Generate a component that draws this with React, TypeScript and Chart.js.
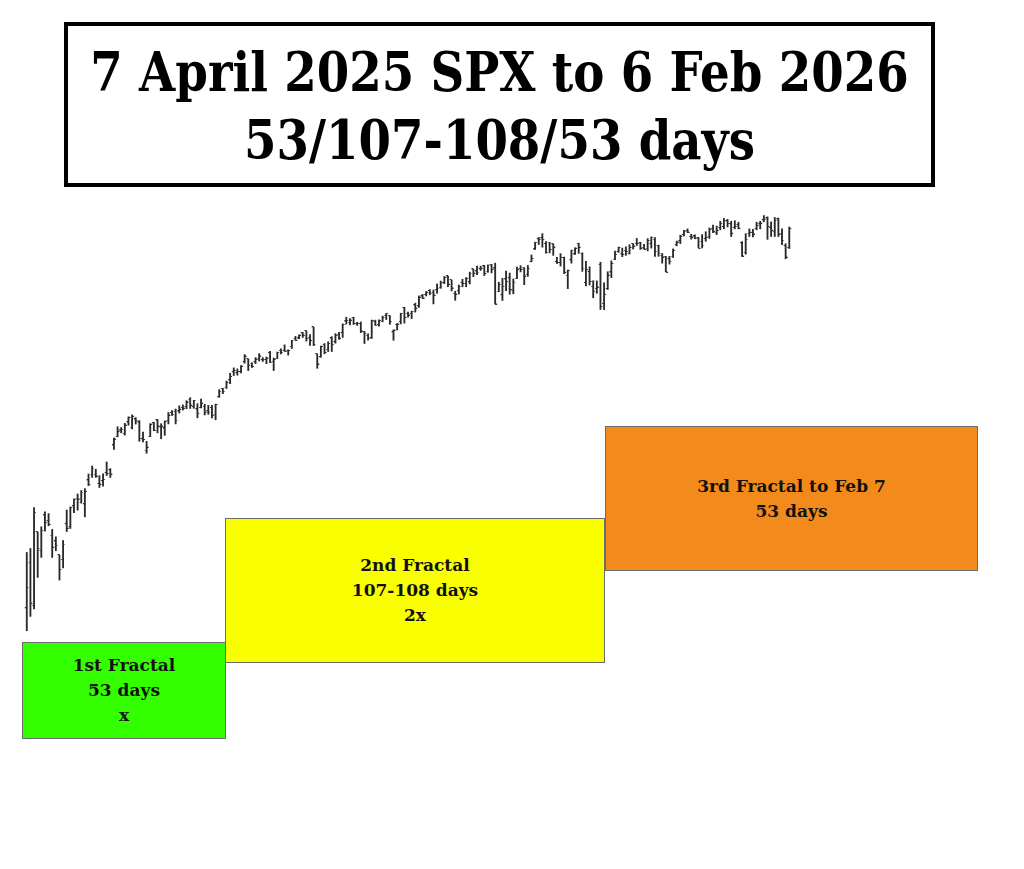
import React, { useEffect, useRef } from "react";
import { Chart, registerables } from "chart.js";

Chart.register(...registerables);

// Trading days 7 Apr 2025 .. 6 Feb 2026 (SPX daily OHLC)
const months = ["Apr", "May", "Jun", "Jul", "Aug", "Sep", "Oct", "Nov", "Dec", "Jan", "Feb"];
const daysPerMonth = [
  [7, 8, 9, 10, 11, 14, 15, 16, 17, 21, 22, 23, 24, 25, 28, 29, 30],
  [1, 2, 5, 6, 7, 8, 9, 12, 13, 14, 15, 16, 19, 20, 21, 22, 23, 27, 28, 29, 30],
  [2, 3, 4, 5, 6, 9, 10, 11, 12, 13, 16, 17, 18, 20, 23, 24, 25, 26, 27, 30],
  [1, 2, 3, 7, 8, 9, 10, 11, 14, 15, 16, 17, 18, 21, 22, 23, 24, 25, 28, 29, 30, 31],
  [1, 4, 5, 6, 7, 8, 11, 12, 13, 14, 15, 18, 19, 20, 21, 22, 25, 26, 27, 28, 29],
  [2, 3, 4, 5, 8, 9, 10, 11, 12, 15, 16, 17, 18, 19, 22, 23, 24, 25, 26, 29, 30],
  [1, 2, 3, 6, 7, 8, 9, 10, 13, 14, 15, 16, 17, 20, 21, 22, 23, 24, 27, 28, 29, 30, 31],
  [3, 4, 5, 6, 7, 10, 11, 12, 13, 14, 17, 18, 19, 20, 21, 24, 25, 26, 28],
  [1, 2, 3, 4, 5, 8, 9, 10, 11, 12, 15, 16, 17, 18, 19, 22, 23, 24, 26, 29, 30, 31],
  [2, 5, 6, 7, 8, 9, 12, 13, 14, 15, 16, 20, 21, 22, 23, 26, 27, 28, 29, 30],
  [2, 3, 4, 5, 6],
];
const dates: string[] = [];
months.forEach((m, i) => daysPerMonth[i].forEach((d) => dates.push(`${d} ${m}`)));

const opens = [
  4953, 5193, 4967, 5353, 5255, 5441, 5411, 5335, 5305, 5232, 5207, 5395, 5381, 5489, 5529, 5508, 5499,
  5625, 5655, 5655, 5606, 5621, 5663, 5679, 5808, 5854, 5887, 5869, 5929, 5902, 5945, 5929, 5841, 5781, 5854, 5925, 5939, 5903,
  5897, 5938, 5978, 5985, 5987, 6005, 6010, 6049, 6010, 5997, 6005, 6012, 5987, 6005, 5970, 6061, 6105, 6112, 6151, 6193,
  6187, 6193, 6245, 6261, 6238, 6245, 6264, 6256, 6257, 6293, 6248, 6264, 6305, 6304, 6306, 6326, 6368, 6370, 6397, 6409, 6374, 6428,
  6287, 6271, 6337, 6311, 6370, 6351, 6389, 6398, 6459, 6453, 6478, 6445, 6446, 6405, 6384, 6371, 6457, 6441, 6458, 6489, 6488,
  6402, 6441, 6457, 6529, 6500, 6500, 6544, 6539, 6590, 6598, 6619, 6610, 6623, 6637, 6659, 6696, 6676, 6604, 6620, 6661, 6658,
  6665, 6732, 6722, 6734, 6748, 6721, 6757, 6737, 6616, 6597, 6680, 6686, 6620, 6684, 6736, 6741, 6704, 6772, 6837, 6891, 6896, 6866, 6873,
  6865, 6771, 6766, 6793, 6700, 6780, 6811, 6867, 6815, 6661, 6718, 6640, 6631, 6757, 6551, 6629, 6716, 6784, 6823,
  6812, 6830, 6815, 6866, 6867, 6872, 6847, 6842, 6866, 6889, 6856, 6805, 6800, 6786, 6800, 6860, 6880, 6913, 6934, 6903, 6906, 6896,
  6878, 6892, 6905, 6945, 6925, 6950, 6955, 6985, 6970, 6950, 6965, 6870, 6820, 6920, 6925, 6945, 6970, 6990, 7000, 6950,
  6930, 6995, 6920, 6855, 6845,
];
const highs = [
  5246, 5267, 5481, 5353, 5381, 5459, 5450, 5367, 5328, 5233, 5309, 5469, 5485, 5528, 5553, 5571, 5581,
  5658, 5700, 5683, 5649, 5659, 5721, 5686, 5847, 5906, 5902, 5924, 5958, 5968, 5954, 5938, 5878, 5829, 5922, 5930, 5944, 5922,
  5937, 5981, 5991, 5999, 6016, 6021, 6043, 6059, 6045, 6027, 6051, 6024, 6018, 6018, 6025, 6101, 6108, 6146, 6187, 6215,
  6210, 6227, 6285, 6262, 6242, 6269, 6290, 6269, 6272, 6302, 6267, 6298, 6315, 6336, 6310, 6360, 6381, 6389, 6401, 6410, 6390, 6428,
  6288, 6330, 6343, 6352, 6379, 6395, 6402, 6446, 6481, 6474, 6481, 6455, 6456, 6407, 6394, 6466, 6466, 6468, 6487, 6502, 6489,
  6415, 6448, 6502, 6533, 6508, 6513, 6555, 6593, 6601, 6616, 6626, 6624, 6656, 6671, 6695, 6697, 6676, 6618, 6650, 6680, 6689,
  6718, 6733, 6750, 6749, 6754, 6756, 6759, 6765, 6665, 6686, 6724, 6713, 6682, 6744, 6752, 6741, 6753, 6808, 6875, 6900, 6920, 6879, 6874,
  6866, 6796, 6815, 6797, 6729, 6834, 6846, 6870, 6819, 6775, 6746, 6673, 6672, 6770, 6662, 6720, 6777, 6828, 6850,
  6844, 6851, 6862, 6867, 6895, 6875, 6864, 6894, 6903, 6900, 6860, 6816, 6801, 6801, 6840, 6881, 6912, 6937, 6945, 6917, 6914, 6900,
  6915, 6930, 6950, 6965, 6960, 6985, 7000, 6995, 6985, 6988, 6980, 6878, 6920, 6945, 6943, 6980, 6985, 7015, 7008, 6982,
  7005, 7002, 6945, 6867, 6955,
];
const lows = [
  4835, 4910, 4950, 5115, 5220, 5358, 5386, 5220, 5255, 5101, 5165, 5356, 5372, 5455, 5468, 5505, 5433,
  5597, 5640, 5640, 5587, 5594, 5650, 5640, 5787, 5853, 5874, 5862, 5914, 5895, 5920, 5830, 5826, 5767, 5854, 5886, 5874, 5843,
  5861, 5921, 5966, 5921, 5978, 5994, 6000, 6002, 6003, 5953, 6005, 5968, 5971, 5952, 5943, 6061, 6080, 6107, 6132, 6175,
  6177, 6189, 6240, 6201, 6217, 6237, 6251, 6249, 6237, 6243, 6201, 6264, 6288, 6303, 6282, 6317, 6360, 6368, 6375, 6356, 6333, 6332,
  6213, 6271, 6289, 6301, 6301, 6345, 6364, 6375, 6445, 6441, 6443, 6438, 6400, 6343, 6361, 6370, 6438, 6434, 6457, 6469, 6444,
  6360, 6414, 6446, 6450, 6481, 6474, 6508, 6533, 6579, 6593, 6599, 6551, 6607, 6633, 6658, 6642, 6619, 6570, 6603, 6641, 6641,
  6656, 6694, 6705, 6727, 6700, 6717, 6714, 6550, 6615, 6569, 6620, 6602, 6604, 6684, 6719, 6652, 6696, 6772, 6837, 6863, 6849, 6818, 6819,
  6806, 6763, 6750, 6710, 6631, 6765, 6811, 6817, 6722, 6646, 6650, 6583, 6607, 6522, 6521, 6627, 6689, 6784, 6822,
  6799, 6806, 6813, 6839, 6858, 6837, 6839, 6829, 6844, 6801, 6801, 6765, 6720, 6760, 6795, 6856, 6868, 6908, 6925, 6891, 6893, 6845,
  6845, 6880, 6895, 6925, 6915, 6940, 6945, 6955, 6905, 6945, 6945, 6800, 6812, 6905, 6903, 6940, 6945, 6982, 6890, 6905,
  6905, 6905, 6862, 6788, 6842,
];
const closes = [
  5062, 4982, 5457, 5268, 5363, 5405, 5396, 5276, 5283, 5158, 5288, 5376, 5484, 5525, 5529, 5561, 5569,
  5604, 5687, 5650, 5607, 5631, 5664, 5660, 5844, 5886, 5893, 5917, 5958, 5964, 5940, 5845, 5842, 5802, 5922, 5889, 5912, 5912,
  5936, 5970, 5971, 5939, 6000, 6006, 6038, 6022, 6045, 5977, 6033, 5982, 5981, 5967, 6025, 6092, 6092, 6141, 6173, 6205,
  6198, 6227, 6279, 6230, 6226, 6263, 6280, 6260, 6269, 6244, 6264, 6297, 6297, 6305, 6309, 6359, 6363, 6389, 6390, 6371, 6362, 6339,
  6238, 6330, 6299, 6345, 6340, 6389, 6374, 6445, 6466, 6469, 6450, 6449, 6411, 6396, 6370, 6467, 6439, 6466, 6481, 6502, 6460,
  6416, 6448, 6502, 6482, 6495, 6512, 6532, 6588, 6584, 6615, 6606, 6600, 6632, 6664, 6693, 6657, 6637, 6605, 6644, 6661, 6688,
  6711, 6715, 6716, 6740, 6714, 6753, 6735, 6553, 6655, 6644, 6671, 6630, 6664, 6735, 6735, 6699, 6738, 6792, 6875, 6891, 6891, 6822, 6840,
  6852, 6771, 6796, 6720, 6729, 6832, 6846, 6851, 6737, 6734, 6672, 6617, 6642, 6539, 6603, 6705, 6766, 6813, 6849,
  6813, 6829, 6850, 6857, 6870, 6847, 6841, 6886, 6901, 6827, 6816, 6800, 6721, 6775, 6834, 6878, 6909, 6932, 6930, 6905, 6896, 6845,
  6858, 6902, 6944, 6935, 6940, 6975, 6990, 6975, 6925, 6960, 6950, 6805, 6890, 6930, 6920, 6965, 6978, 6995, 6960, 6940,
  6990, 6920, 6885, 6800, 6950,
];

const titleLines = ["7 April 2025 SPX to 6 Feb 2026", "53/107-108/53 days"];
const fractalLabels = [
  ["1st Fractal", "53 days", "x"],
  ["2nd Fractal", "107-108 days", "2x"],
  ["3rd Fractal to Feb 7", "53 days"],
];

function tickImage(side: "left" | "right"): HTMLCanvasElement {
  const c = document.createElement("canvas");
  c.width = 6;
  c.height = 2;
  const g = c.getContext("2d")!;
  g.fillStyle = "#333";
  if (side === "left") g.fillRect(1, 0, 2, 1);
  else g.fillRect(3, 1, 2, 1);
  return c;
}

export default function App() {
  const ref = useRef<HTMLCanvasElement | null>(null);

  useEffect(() => {
    if (!ref.current) return;
    const rangeData = dates.map((_, i) => ({ x: i, y: [lows[i], highs[i]] }));
    const openData = dates.map((_, i) => ({ x: i, y: opens[i] }));
    const closeData = dates.map((_, i) => ({ x: i, y: closes[i] }));
    const chart = new Chart(ref.current, {
      type: "bar",
      data: {
        datasets: [
          {
            type: "bar",
            data: rangeData as any,
            backgroundColor: "#2a2a2a",
            borderWidth: 0,
            barThickness: 1.2,
          },
          {
            type: "scatter",
            data: openData,
            pointStyle: tickImage("left"),
            pointRadius: 3,
          } as any,
          {
            type: "scatter",
            data: closeData,
            pointStyle: tickImage("right"),
            pointRadius: 3,
          } as any,
        ],
      },
      options: {
        responsive: false,
        animation: false,
        events: [],
        layout: { padding: 0 },
        plugins: { legend: { display: false }, tooltip: { enabled: false } },
        scales: {
          x: { type: "linear", min: -6, max: 273.27, offset: false, display: false },
          y: { type: "linear", min: 3610.1, max: 8120.6, display: false },
        },
      },
    });
    return () => chart.destroy();
  }, []);

  const boxFont = 'bold 17px "DejaVu Serif", serif';
  const boxes = [
    { left: 22, top: 642, width: 204, height: 97, bg: "#33ff00", lines: fractalLabels[0] },
    { left: 225, top: 518, width: 380, height: 145, bg: "#faff00", lines: fractalLabels[1] },
    { left: 605, top: 426, width: 373, height: 145, bg: "#f28a1c", lines: fractalLabels[2] },
  ];

  return (
    <div style={{ position: "absolute", left: 0, top: 0, width: 1024, height: 869, background: "#fff", overflow: "hidden" }}>
      <canvas ref={ref} width={1024} height={869} style={{ position: "absolute", left: 0, top: 0 }} />
      <div
        style={{
          position: "absolute",
          left: 64,
          top: 22,
          width: 871,
          height: 165,
          border: "4px solid #000",
          boxSizing: "border-box",
          background: "#fff",
        }}
      />
      {titleLines.map((t, i) => (
        <div
          key={t}
          style={{
            position: "absolute",
            left: 0,
            width: 999,
            top: 39 + i * 68,
            height: 68,
            lineHeight: "68px",
            textAlign: "center",
            font: 'bold 55px "DejaVu Serif", serif',
            color: "#000",
            transform: "scaleX(0.849)",
            transformOrigin: "499.5px 0",
            whiteSpace: "nowrap",
          }}
        >
          {t}
        </div>
      ))}
      {boxes.map((b, i) => (
        <div
          key={i}
          style={{
            position: "absolute",
            left: b.left,
            top: b.top,
            width: b.width,
            height: b.height,
            background: b.bg,
            border: "1px solid #6b6b6b",
            boxSizing: "border-box",
            display: "flex",
            flexDirection: "column",
            justifyContent: "center",
            alignItems: "center",
            font: boxFont,
            lineHeight: "25px",
            color: "#111",
          }}
        >
          {b.lines.map((l) => (
            <div key={l}>{l}</div>
          ))}
        </div>
      ))}
    </div>
  );
}
